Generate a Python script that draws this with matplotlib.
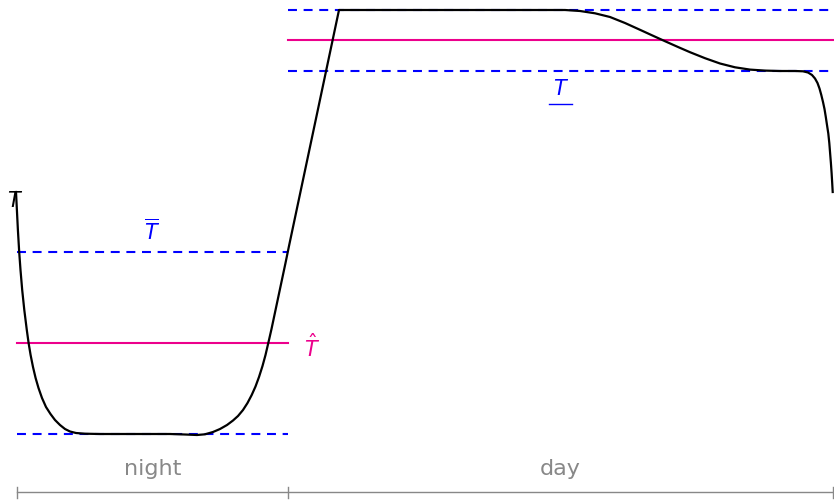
import matplotlib.pyplot as plt

plt.rcParams['mathtext.fontset'] = 'dejavusans'

# temperature curve over one night/day cycle (screen-like units, y grows downward)
# night: fast drop, flat minimum, rise into the morning ramp
night_x = [16, 16.9, 17.9, 19.2, 20.5, 22.2, 24.3, 26.8, 28.6, 30.6, 33, 35.6, 38.5, 42, 46,
           50.5, 55, 60, 65, 70, 76, 85, 100, 130, 170, 185, 197, 205, 213, 220, 227, 233,
           238, 243, 247.5, 251.7, 255.5, 259, 262.5, 265.5, 268.3, 271.5, 275, 278.5, 282,
           285.5, 289]
night_y = [192, 210, 230, 252, 270, 290, 310, 330, 343, 355, 367, 378, 388, 398, 407,
           414, 420, 425, 429, 431.5, 433, 433.7, 434, 434, 434, 434.5, 435, 434.3, 432, 429,
           425, 420.5, 416, 410, 403, 395, 386.5, 377, 366, 355, 343, 329, 312.5, 296, 279.5,
           263, 246]
# day: plateau at the top, smooth cool-down, second plateau, final drop
day_x = [339, 400, 500, 565, 580, 595, 610, 625, 640, 652, 665, 678, 690, 705, 720, 735,
         750, 765, 780, 795, 803, 808, 812, 815, 817.5, 819.5, 821.3, 823, 824.5, 825.8,
         827, 828.3, 829.3, 830.1, 830.9, 831.6, 832.2, 832.7]
day_y = [10, 10, 10, 10, 11, 13.3, 17, 23, 29.8, 35.3, 41.2, 47, 52.2, 58.2, 63.5, 67.3,
         69.6, 70.6, 71, 71, 71.3, 72.5, 75, 78.5, 83, 88.5, 95, 102, 109, 117,
         125, 133.5, 143, 153, 163, 173, 183, 192]

# phase boundaries on the time axis
bounds = [17, 288, 833]
phases = ['night', 'day']

# reference levels per phase: upper bound, target, lower bound
night_upper, night_target, night_lower = 252, 343, 434
day_upper, day_target, day_lower = 10, 40, 71

blue = '#0000ff'
pink = '#ec008c'
grey = '#888888'
lw = 1.5
dash = (4.3, 3.2)

fig = plt.figure(figsize=(8.34, 5.01), dpi=100)
ax = fig.add_axes([0, 0, 1, 1])
ax.set_xlim(0, 834)
ax.set_ylim(501, 0)
ax.axis('off')

# night levels
ax.plot([bounds[0], bounds[1]], [night_upper] * 2, color=blue, lw=lw, dashes=dash)
ax.plot([bounds[0], bounds[1]], [night_lower] * 2, color=blue, lw=lw, dashes=dash)
ax.plot([bounds[0], bounds[1]], [night_target] * 2, color=pink, lw=lw)

# day levels
ax.plot([bounds[1], 834], [day_upper] * 2, color=blue, lw=lw, dashes=dash)
ax.plot([bounds[1], 834], [day_lower] * 2, color=blue, lw=lw, dashes=dash)
ax.plot([bounds[1], 834], [day_target] * 2, color=pink, lw=lw)

ax.plot(night_x + day_x, night_y + day_y, color='black', lw=1.6, solid_joinstyle='round')

fs = 15
ax.text(15, 201, '$T$', color='black', fontsize=fs, ha='center', va='center')
ax.text(152, 231, r'$\overline{T}$', color=blue, fontsize=fs, ha='center', va='center')
ax.text(312, 347, r'$\hat{T}$', color=pink, fontsize=fs, ha='center', va='center')
ax.text(561, 89, '$T$', color=blue, fontsize=fs, ha='center', va='center')
ax.plot([549, 572], [104, 104], color=blue, lw=1.0)

# time axis with night / day spans
ax.plot([bounds[0], bounds[-1]], [492, 492], color=grey, lw=1.0)
for b in bounds:
    ax.plot([b, b], [487, 498], color=grey, lw=1.0)
for i, name in enumerate(phases):
    xm = (bounds[i] + bounds[i + 1]) / 2
    ax.text(xm, 469, name, color=grey, fontsize=16, ha='center', va='center')

fig.savefig('out.png', dpi=100)
